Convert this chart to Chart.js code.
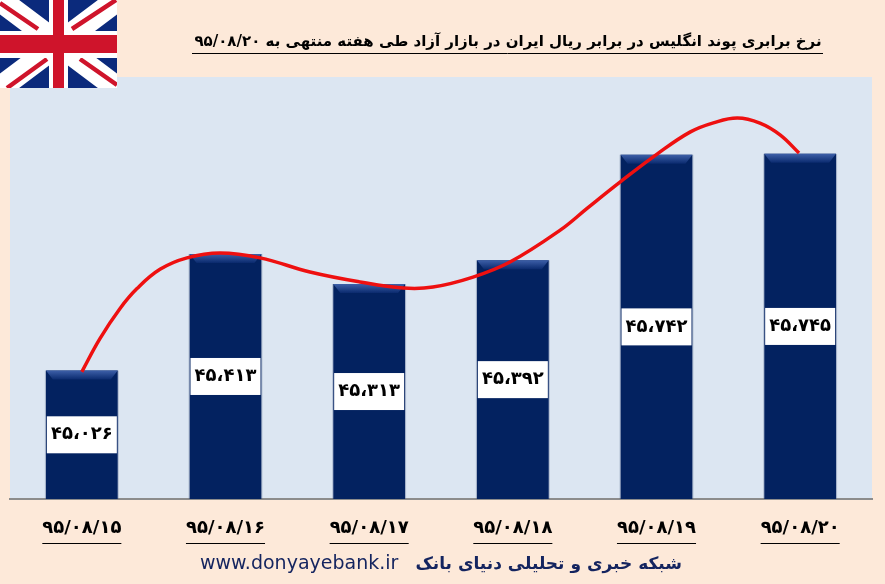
<!DOCTYPE html>
<html lang="fa"><head><meta charset="utf-8">
<style>html,body{margin:0;padding:0;background:#FDE9D9;overflow:hidden}
#w{position:relative;width:885px;height:584px}
canvas{position:absolute;left:0;top:0}
#flag{position:absolute;left:0;top:0}</style>
<script src="https://cdn.jsdelivr.net/npm/chart.js@4/dist/chart.umd.min.js"></script>
</head><body><div id="w"><canvas id="c" width="885" height="584"></canvas>
<svg id="flag" width="117" height="88" viewBox="0 0 117 88">
<rect width="117" height="88" fill="#0B2A7C"/>
<path d="M0,0 L117,88 M117,0 L0,88" stroke="#fff" stroke-width="23"/>
<path d="M0,3 L38,29 M116,0 L72,29 M47,59 L7,88 M80,59 L117,85" stroke="#CF142B" stroke-width="4.5"/>
<rect x="49" y="0" width="19" height="88" fill="#fff"/><rect x="0" y="31" width="117" height="27" fill="#fff"/>
<rect x="53" y="0" width="11" height="88" fill="#CF142B"/><rect x="0" y="35" width="117" height="18" fill="#CF142B"/>
</svg></div>
<script>
const categories = ['۹۵/۰۸/۱۵','۹۵/۰۸/۱۶','۹۵/۰۸/۱۷','۹۵/۰۸/۱۸','۹۵/۰۸/۱۹','۹۵/۰۸/۲۰'];
const rates = [45026,45413,45313,45392,45742,45745];
const rateLabels = ['۴۵،۰۲۶','۴۵،۴۱۳','۴۵،۳۱۳','۴۵،۳۹۲','۴۵،۷۴۲','۴۵،۷۴۵'];
const curveIndex = [0,0.126,0.266,0.384,0.544,0.732,0.962,1.24,1.588,1.936,2.235,2.444,2.723,2.98,3.33,3.519,3.748,4.006,4.236,4.396,4.563,4.72,4.86,4.992];
const curveValue = [45022,45132,45232,45298,45362,45400,45416,45400,45353,45320,45300,45303,45336,45386,45492,45565,45652,45745,45818,45848,45864,45847,45808,45748];
const titleText = 'نرخ برابری پوند انگلیس در برابر ریال ایران در بازار آزاد طی هفته منتهی به ۹۵/۰۸/۲۰';
const footerUrl = 'www.donyayebank.ir';
const footerName = 'شبکه خبری و تحلیلی دنیای بانک';
const axisMin = 44600, axisMax = 46000;
const ARABIC = '"DejaVu Sans"';

const decor = {
  id:'decor',
  beforeDraw(ch){
    const {ctx,chartArea:a}=ch; ctx.save();
    ctx.fillStyle='#FDE9D9'; ctx.fillRect(0,0,ch.width,ch.height);
    ctx.fillStyle='#DCE6F2'; ctx.fillRect(a.left,a.top,a.right-a.left,a.bottom-a.top);
    ctx.restore();
  },
  afterDatasetDraw(ch,args){
    if(args.index!==0) return;
    const ctx=ch.ctx; ctx.save();
    ch.getDatasetMeta(0).data.forEach(b=>{
      const x0=b.x-b.width/2,x1=b.x+b.width/2,y0=b.y,d=9;
      const g=ctx.createLinearGradient(0,y0,0,y0+d);
      g.addColorStop(0,'#3D5FA8'); g.addColorStop(1,'#0a2a6e');
      ctx.fillStyle=g; ctx.beginPath();
      ctx.moveTo(x0,y0);ctx.lineTo(x1,y0);ctx.lineTo(x1-7,y0+d);ctx.lineTo(x0+7,y0+d);ctx.closePath();ctx.fill();
      ctx.strokeStyle='rgba(70,90,130,.3)';ctx.lineWidth=1;
      ctx.beginPath();ctx.moveTo(x0-.5,y0);ctx.lineTo(x0-.5,b.base);ctx.moveTo(x1+.5,y0);ctx.lineTo(x1+.5,b.base);ctx.stroke();
    });
    ctx.restore();
  },
  afterDatasetsDraw(ch){
    const ctx=ch.ctx; ctx.save();
    ctx.textAlign='center'; ctx.textBaseline='middle';
    ch.getDatasetMeta(0).data.forEach((b,i)=>{
      const cy=(b.y+b.base)/2;
      ctx.fillStyle='#fff'; ctx.fillRect(b.x-35,cy-18.5,70,37);
      ctx.fillStyle='#000'; ctx.font='bold 18px '+ARABIC;
      ctx.fillText(rateLabels[i],b.x,cy);
    });
    ctx.restore();
  },
  afterDraw(ch){
    const ctx=ch.ctx,sx=ch.scales.x; ctx.save();
    ctx.textBaseline='alphabetic'; ctx.strokeStyle='#000'; ctx.lineWidth=1;
    ctx.font='bold 18px '+ARABIC;
    categories.forEach((t,i)=>{
      const x=sx.getPixelForTick(i),w=ctx.measureText(t).width;
      ctx.beginPath();ctx.moveTo(x-w/2,543.5);ctx.lineTo(x+w/2,543.5);ctx.stroke();
    });
    ctx.textAlign='center'; ctx.fillStyle='#000'; ctx.font='bold 15px '+ARABIC; ctx.direction='rtl';
    ctx.fillText(titleText,508,46);
    ctx.beginPath();ctx.moveTo(192,53.5);ctx.lineTo(823,53.5);ctx.stroke();
    ctx.fillStyle='#14245F'; ctx.font='bold 17px '+ARABIC; ctx.textAlign='right';
    ctx.fillText(footerName,682,569);
    ctx.direction='ltr'; ctx.textAlign='left'; ctx.font='19px "DejaVu Sans"';
    ctx.fillText(footerUrl,200,569);
    ctx.restore();
  }
};

new Chart(document.getElementById('c'),{
  data:{labels:categories,datasets:[
    {type:'bar',data:rates,base:axisMin,backgroundColor:'#032260',barPercentage:0.5,categoryPercentage:1,order:1},
    {type:'line',parsing:false,data:curveIndex.map((x,i)=>({x,y:curveValue[i]})),
     borderColor:'#EE1010',borderWidth:3.5,pointRadius:0,tension:0.4,order:0,fill:false}
  ]},
  options:{responsive:false,animation:false,
    layout:{padding:{left:10,right:13,top:77,bottom:0}},
    plugins:{legend:{display:false},tooltip:{enabled:false},title:{display:false}},
    scales:{
      x:{type:'category',offset:true,grid:{display:false,drawTicks:false},border:{display:true,color:'#8C8C8C',width:2},
         ticks:{color:'#000',font:{family:'DejaVu Sans',weight:'bold',size:18},padding:19,maxRotation:0},
         afterFit(s){s.height=85;}},
      y:{display:false,min:axisMin,max:axisMax}
    }
  },
  plugins:[decor]
});
</script></body></html>
